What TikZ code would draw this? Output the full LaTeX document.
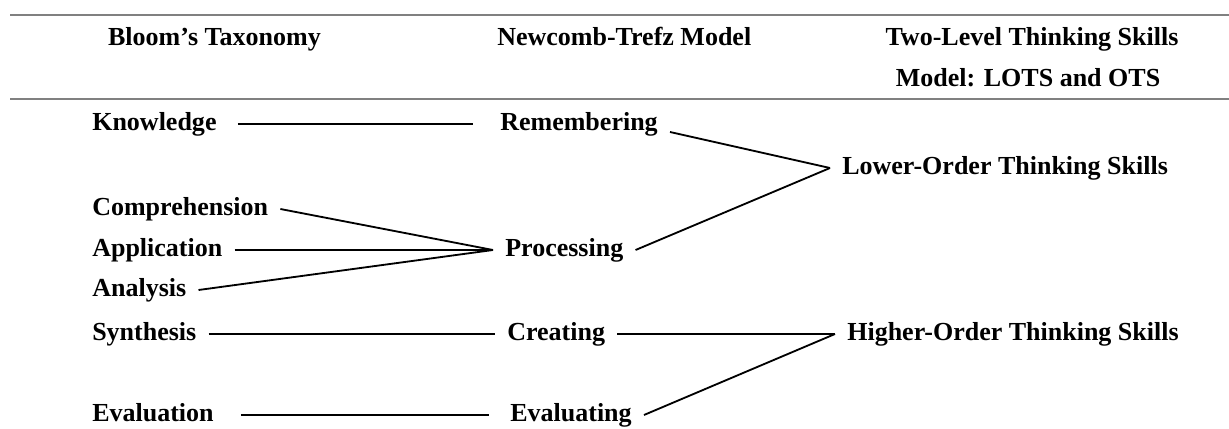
\documentclass[tikz,border=0pt]{standalone}
\usepackage{fontspec}
\setmainfont{Liberation Serif}
\usetikzlibrary{positioning,calc}

\begin{document}
\begin{tikzpicture}[
    lbl/.style={font=\fontsize{18.5pt}{22pt}\selectfont\bfseries, inner xsep=0.3cm, inner ysep=0pt, text height=12.6pt, text depth=4pt},
    item/.style={lbl, anchor=west},
    rule/.style={line width=1.8pt, gray},
    link/.style={line width=1.3pt}]
    \useasboundingbox (0,0) rectangle (30.725,10.7);

    % Header rules
    \draw[rule] (0.25,10.325) -- (30.725,10.325);
    \draw[rule] (0.25,8.225) -- (30.725,8.225);

    % Column titles
    \node[lbl] (bloomhd) at (5.36,9.725) {Bloom’s Taxonomy};
    \node[item] (newhd) at (12.125,9.725) {Newcomb-Trefz Model};
    \node[lbl] (twohd) at (25.8,9.725) {Two-Level Thinking Skills};
    \node[lbl] (twohdb) at (25.7,8.7) {Model: LOTS and OTS};

    % Bloom's levels
    \node[item] (know) at (2,7.6) {Knowledge};
    \node[item] (comp) at (2,5.475) {Comprehension};
    \node[item] (appl) at (2,4.45) {Application};
    \node[item] (anal) at (2,3.45) {Analysis};
    \node[item] (synth) at (2,2.35) {Synthesis};
    \node[item] (eval) at (2,0.325) {Evaluation};

    % Newcomb-Trefz levels
    \node[item] (remem) at (12.2,7.6) {Remembering};
    \node[item] (proc) at (12.325,4.45) {Processing};
    \node[item] (creat) at (12.375,2.35) {Creating};
    \node[item] (evalg) at (12.45,0.325) {Evaluating};

    % Two levels
    \node[item] (lots) at (20.75,6.5) {Lower-Order Thinking Skills};
    \node[item] (hots) at (20.875,2.35) {Higher-Order Thinking Skills};

    % Links
    \draw[link, shorten <=0.225cm, shorten >=0.375cm] (know.east) -- (remem.west);
    \draw[link] (comp.east) -- (proc.west);
    \draw[link] (appl.east) -- (proc.west);
    \draw[link] (anal.east) -- (proc.west);
    \draw[link] (synth.east) -- (creat.west);
    \draw[link, shorten <=0.375cm, shorten >=0.225cm] (eval.east) -- (evalg.west);
    \draw[link] ([yshift=-0.2cm]remem.east) -- (lots.west);
    \draw[link] (proc.east) -- (lots.west);
    \draw[link] (creat.east) -- (hots.west);
    \draw[link] (evalg.east) -- (hots.west);
\end{tikzpicture}
\end{document}
